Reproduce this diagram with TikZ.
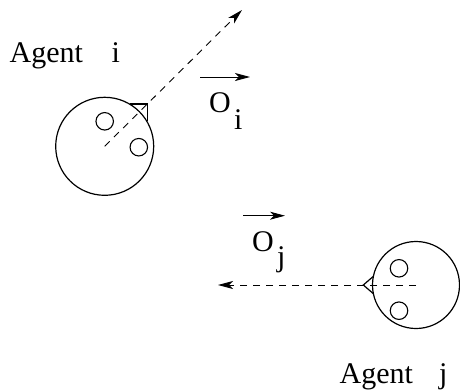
\documentclass[tikz,border=0pt]{standalone}
\usepackage{fontspec}
\setmainfont{Liberation Serif}
\usetikzlibrary{arrows.meta}
\begin{document}
\begin{tikzpicture}[x=1pt,y=-1pt,
  body/.style={circle,draw,line width=1.2pt,inner sep=0pt,minimum size=#1},
  eye/.style={circle,draw,line width=1.1pt,inner sep=0pt,minimum size=17.5pt},
  gaze/.style={line width=0.9pt,dash pattern=on 7pt off 6pt,-{Stealth[length=15pt,width=8pt,inset=4pt]}},
  vec/.style={line width=0.9pt,-{Stealth[length=15pt,width=8pt,inset=4pt]}},
  nose/.style={line width=1.2pt},
  lbl/.style={inner sep=0pt,anchor=base west,font=\fontsize{30}{36}\selectfont}]
\useasboundingbox (0,0) rectangle (460,391);
% agent i
\node[body=98pt] (ai) at (104.7,146.3) {};
\node[eye] (ai1) at (104.7,121.3) {};
\node[eye] (ai2) at (138.8,147.2) {};
\coordinate (tipi) at (242,10);
\draw[gaze] (ai.center) -- (tipi);
\coordinate (ni1) at (130,104);
\coordinate (ni2) at (147.3,104);
\coordinate (ni3) at (147.3,121);
\draw[nose] (ni1) -- (ni2) -- (ni3);
\node[lbl] (labi) at (9.5,62.3) {Agent\hspace{28.7pt}i};
\coordinate (oi1) at (200,77);
\coordinate (oi2) at (250,77);
\draw[vec] (oi1) -- (oi2);
\node[lbl] (Oi) at (209,112.8) {O};
\node[lbl] (subi) at (234,129) {i};
% agent j
\node[body=87pt] (aj) at (416,285) {};
\node[eye] (aj1) at (399,268.3) {};
\node[eye] (aj2) at (399,310.7) {};
\coordinate (tipj) at (218,285);
\draw[gaze] (aj.center) -- (tipj);
\coordinate (nj1) at (373.4,276.3);
\coordinate (nj2) at (363.3,285);
\coordinate (nj3) at (373.4,293.7);
\draw[nose] (nj1) -- (nj2) -- (nj3);
\node[lbl] (labj) at (339.5,383) {Agent\hspace{26.2pt}j};
\coordinate (oj1) at (243,215.7);
\coordinate (oj2) at (285,215.7);
\draw[vec] (oj1) -- (oj2);
\node[lbl] (Oj) at (252,251.8) {O};
\node[lbl] (subj) at (277,266.8) {j};
\end{tikzpicture}
\end{document}
